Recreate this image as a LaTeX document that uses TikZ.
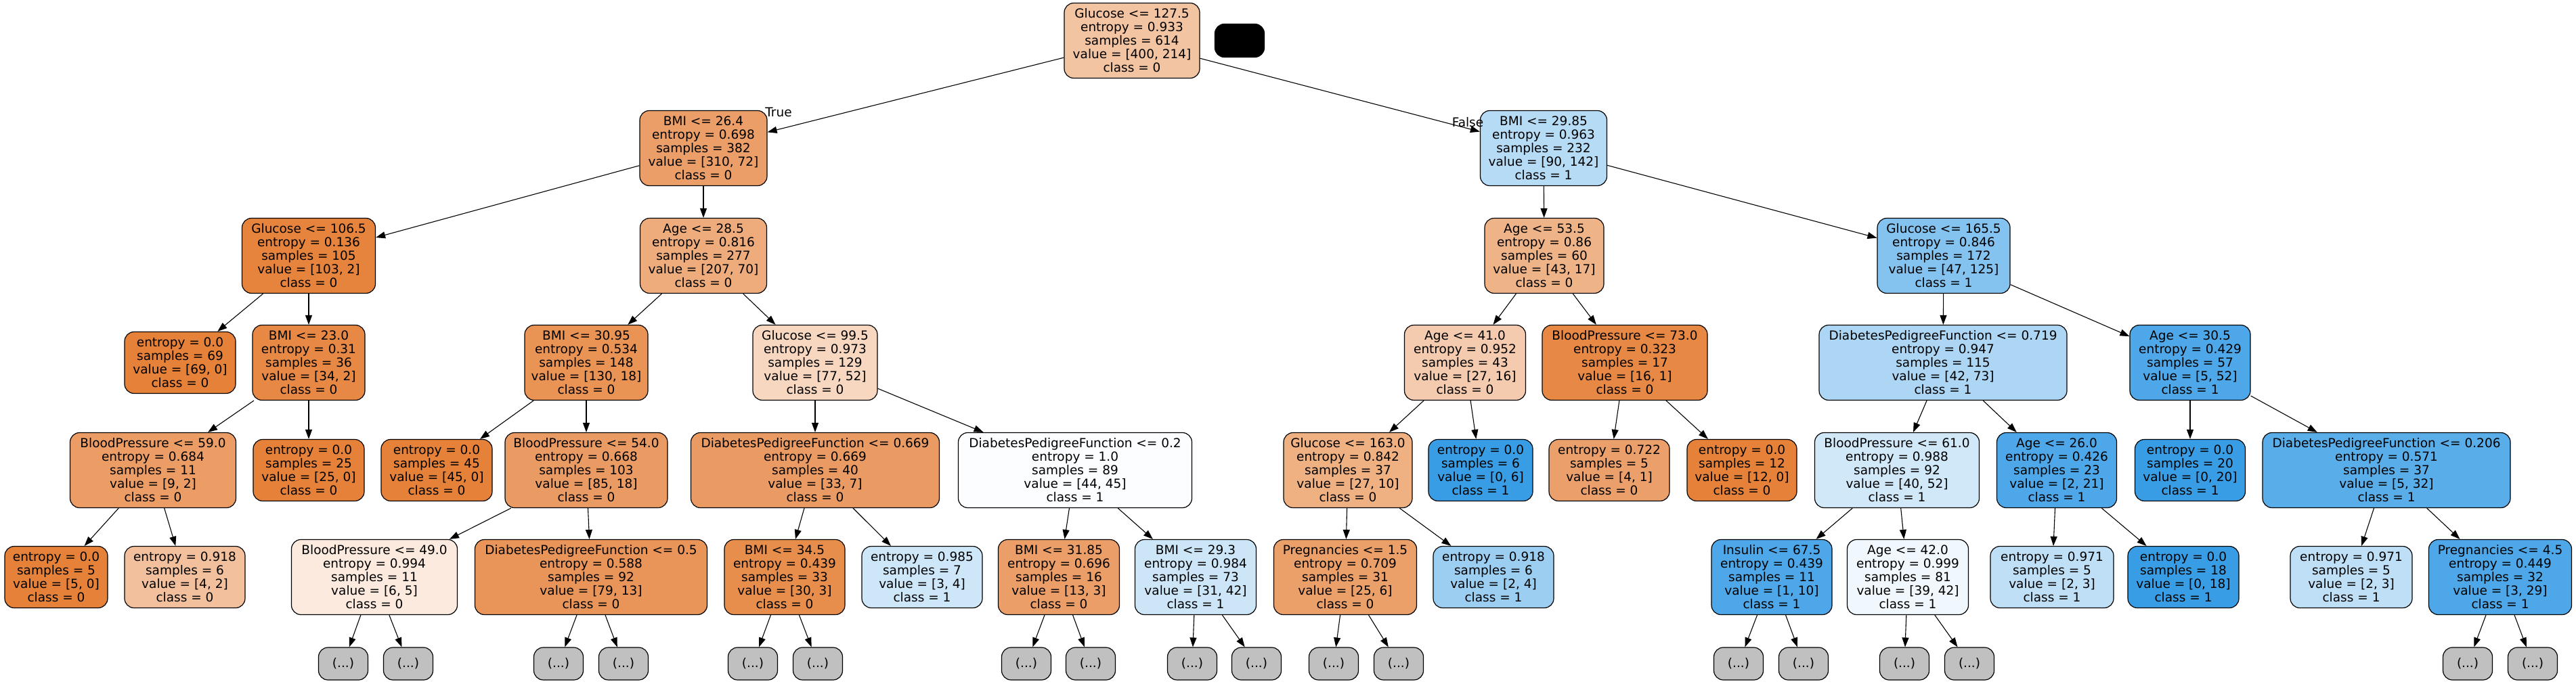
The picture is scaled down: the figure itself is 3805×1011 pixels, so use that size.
\documentclass[tikz,border=0pt]{standalone}
\usepackage{fontspec}
\setmainfont{DejaVu Sans}
\usetikzlibrary{arrows.meta}
\definecolor{co}{RGB}{229,129,57}
\definecolor{cb}{RGB}{57,157,229}
\definecolor{gry}{RGB}{192,192,192}
\newcommand\fs{\fontsize{18.5}{20}\selectfont}
\tikzset{
  box/.style={draw=black, line width=1.2pt, rounded corners=14pt, align=center, inner sep=0pt, font=\fs, minimum height=111pt},
  lf/.style={box, minimum height=91pt},
  gr/.style={box, fill=gry, minimum width=73pt, minimum height=48pt},
  edge/.style={-{Triangle[length=14pt,width=10pt]}, line width=1.1pt},
  elab/.style={font=\fs, inner sep=0pt}
}
\begin{document}
\begin{tikzpicture}[x=1pt,y=-1pt]
\useasboundingbox (0,0) rectangle (3805,1011);
% level 0
\node[box, fill=co!47!white, minimum width=200pt] (n0) at (1672,60) {Glucose <= 127.5\\entropy = 0.933\\samples = 614\\value = [400, 214]\\class = 0};
\node[box, fill=black, minimum width=73pt, minimum height=49pt] (blk) at (1831,60) {};
% level 1
\node[box, fill=co!77!white, minimum width=188pt] (a) at (1039,219) {BMI <= 26.4\\entropy = 0.698\\samples = 382\\value = [310, 72]\\class = 0};
\node[box, fill=cb!37!white, minimum width=187pt] (b) at (2280,219) {BMI <= 29.85\\entropy = 0.963\\samples = 232\\value = [90, 142]\\class = 1};
% level 2
\node[box, fill=co!98!white, minimum width=197pt] (a1) at (456,378) {Glucose <= 106.5\\entropy = 0.136\\samples = 105\\value = [103, 2]\\class = 0};
\node[box, fill=co!66!white, minimum width=187pt] (a2) at (1039,378) {Age <= 28.5\\entropy = 0.816\\samples = 277\\value = [207, 70]\\class = 0};
\node[box, fill=co!60!white, minimum width=176pt] (b1) at (2281,378) {Age <= 53.5\\entropy = 0.86\\samples = 60\\value = [43, 17]\\class = 0};
\node[box, fill=cb!62!white, minimum width=196pt] (b2) at (2871,378) {Glucose <= 165.5\\entropy = 0.846\\samples = 172\\value = [47, 125]\\class = 1};
% level 3
\node[lf, fill=co, minimum width=164pt] (a11) at (266,536) {entropy = 0.0\\samples = 69\\value = [69, 0]\\class = 0};
\node[box, fill=co!94!white, minimum width=166pt] (a12) at (456,536) {BMI <= 23.0\\entropy = 0.31\\samples = 36\\value = [34, 2]\\class = 0};
\node[box, fill=co!86!white, minimum width=182pt] (a21) at (866,536) {BMI <= 30.95\\entropy = 0.534\\samples = 148\\value = [130, 18]\\class = 0};
\node[box, fill=co!32!white, minimum width=184pt] (a22) at (1204,536) {Glucose <= 99.5\\entropy = 0.973\\samples = 129\\value = [77, 52]\\class = 0};
\node[box, fill=co!41!white, minimum width=179pt] (b11) at (2164,536) {Age <= 41.0\\entropy = 0.952\\samples = 43\\value = [27, 16]\\class = 0};
\node[box, fill=co!94!white, minimum width=244pt] (b12) at (2400,536) {BloodPressure <= 73.0\\entropy = 0.323\\samples = 17\\value = [16, 1]\\class = 0};
\node[box, fill=cb!42!white, minimum width=366pt] (b21) at (2870,536) {DiabetesPedigreeFunction <= 0.719\\entropy = 0.947\\samples = 115\\value = [42, 73]\\class = 1};
\node[box, fill=cb!90!white, minimum width=178pt] (b22) at (3235,536) {Age <= 30.5\\entropy = 0.429\\samples = 57\\value = [5, 52]\\class = 1};
% level 4
\node[box, fill=co!78!white, minimum width=245pt] (a121) at (226,695) {BloodPressure <= 59.0\\entropy = 0.684\\samples = 11\\value = [9, 2]\\class = 0};
\node[lf, fill=co, minimum width=164pt] (a122) at (456,695) {entropy = 0.0\\samples = 25\\value = [25, 0]\\class = 0};
\node[lf, fill=co, minimum width=164pt] (a211) at (645,695) {entropy = 0.0\\samples = 45\\value = [45, 0]\\class = 0};
\node[box, fill=co!79!white, minimum width=240pt] (a212) at (866,695) {BloodPressure <= 54.0\\entropy = 0.668\\samples = 103\\value = [85, 18]\\class = 0};
\node[box, fill=co!79!white, minimum width=367pt] (a221) at (1204,695) {DiabetesPedigreeFunction <= 0.669\\entropy = 0.669\\samples = 40\\value = [33, 7]\\class = 0};
\node[box, fill=cb!2!white, minimum width=345pt] (a222) at (1588,695) {DiabetesPedigreeFunction <= 0.2\\entropy = 1.0\\samples = 89\\value = [44, 45]\\class = 1};
\node[box, fill=co!63!white, minimum width=190pt] (b111) at (1991,695) {Glucose <= 163.0\\entropy = 0.842\\samples = 37\\value = [27, 10]\\class = 0};
\node[lf, fill=cb, minimum width=154pt] (b112) at (2187,695) {entropy = 0.0\\samples = 6\\value = [0, 6]\\class = 1};
\node[lf, fill=co!75!white, minimum width=178pt] (b121) at (2377,695) {entropy = 0.722\\samples = 5\\value = [4, 1]\\class = 0};
\node[lf, fill=co, minimum width=162pt] (b122) at (2573,695) {entropy = 0.0\\samples = 12\\value = [12, 0]\\class = 0};
\node[box, fill=cb!23!white, minimum width=243pt] (b211) at (2802,695) {BloodPressure <= 61.0\\entropy = 0.988\\samples = 92\\value = [40, 52]\\class = 1};
\node[box, fill=cb!90!white, minimum width=177pt] (b212) at (3038,695) {Age <= 26.0\\entropy = 0.426\\samples = 23\\value = [2, 21]\\class = 1};
\node[lf, fill=cb, minimum width=163pt] (b221) at (3235,695) {entropy = 0.0\\samples = 20\\value = [0, 20]\\class = 1};
\node[box, fill=cb!84!white, minimum width=366pt] (b222) at (3525,695) {DiabetesPedigreeFunction <= 0.206\\entropy = 0.571\\samples = 37\\value = [5, 32]\\class = 1};
% level 5
\node[lf, fill=co, minimum width=152pt] (a1211) at (83,853) {entropy = 0.0\\samples = 5\\value = [5, 0]\\class = 0};
\node[lf, fill=co!50!white, minimum width=178pt] (a1212) at (273,853) {entropy = 0.918\\samples = 6\\value = [4, 2]\\class = 0};
\node[box, fill=co!17!white, minimum width=245pt] (a2121) at (553,853) {BloodPressure <= 49.0\\entropy = 0.994\\samples = 11\\value = [6, 5]\\class = 0};
\node[box, fill=co!84!white, minimum width=343pt] (a2122) at (873,853) {DiabetesPedigreeFunction <= 0.5\\entropy = 0.588\\samples = 92\\value = [79, 13]\\class = 0};
\node[box, fill=co!90!white, minimum width=178pt] (a2211) at (1159,853) {BMI <= 34.5\\entropy = 0.439\\samples = 33\\value = [30, 3]\\class = 0};
\node[lf, fill=cb!25!white, minimum width=178pt] (a2212) at (1362,853) {entropy = 0.985\\samples = 7\\value = [3, 4]\\class = 1};
\node[box, fill=co!77!white, minimum width=179pt] (a2221) at (1564,853) {BMI <= 31.85\\entropy = 0.696\\samples = 16\\value = [13, 3]\\class = 0};
\node[box, fill=cb!26!white, minimum width=179pt] (a2222) at (1766,853) {BMI <= 29.3\\entropy = 0.984\\samples = 73\\value = [31, 42]\\class = 1};
\node[box, fill=co!76!white, minimum width=211pt] (b1111) at (1987,853) {Pregnancies <= 1.5\\entropy = 0.709\\samples = 31\\value = [25, 6]\\class = 0};
\node[lf, fill=cb!50!white, minimum width=178pt] (b1112) at (2206,853) {entropy = 0.918\\samples = 6\\value = [2, 4]\\class = 1};
\node[box, fill=cb!90!white, minimum width=178pt] (b2111) at (2617,853) {Insulin <= 67.5\\entropy = 0.439\\samples = 11\\value = [1, 10]\\class = 1};
\node[box, fill=cb!7!white, minimum width=179pt] (b2112) at (2818,853) {Age <= 42.0\\entropy = 0.999\\samples = 81\\value = [39, 42]\\class = 1};
\node[lf, fill=cb!33!white, minimum width=182pt] (b2121) at (3031,853) {entropy = 0.971\\samples = 5\\value = [2, 3]\\class = 1};
\node[lf, fill=cb, minimum width=164pt] (b2122) at (3225,853) {entropy = 0.0\\samples = 18\\value = [0, 18]\\class = 1};
\node[lf, fill=cb!33!white, minimum width=180pt] (b2221) at (3473,853) {entropy = 0.971\\samples = 5\\value = [2, 3]\\class = 1};
\node[box, fill=cb!90!white, minimum width=211pt] (b2222) at (3693,853) {Pregnancies <= 4.5\\entropy = 0.449\\samples = 32\\value = [3, 29]\\class = 1};
% level 6
\foreach \n/\x in {g1/507,g2/603,g3/825,g4/921,g5/1112,g6/1208,g7/1516,g8/1611,g9/1761,g10/1856,g11/1970,g12/2066,g13/2568,g14/2664,g15/2813,g16/2909,g17/3645,g18/3741}
  \node[gr] (\n) at (\x,981) {(...)};
% edges
\draw[edge] (n0) -- (a);
\draw[edge] (n0) -- (b);
\foreach \p/\c in {a/a1,a/a2,b/b1,b/b2,
  a1/a11,a1/a12,a2/a21,a2/a22,b1/b11,b1/b12,b2/b21,b2/b22,
  a12/a121,a12/a122,a21/a211,a21/a212,a22/a221,a22/a222,b11/b111,b11/b112,b12/b121,b12/b122,b21/b211,b21/b212,b22/b221,b22/b222,
  a121/a1211,a121/a1212,a212/a2121,a212/a2122,a221/a2211,a221/a2212,a222/a2221,a222/a2222,b111/b1111,b111/b1112,b211/b2111,b211/b2112,b212/b2121,b212/b2122,b222/b2221,b222/b2222,
  a2121/g1,a2121/g2,a2122/g3,a2122/g4,a2211/g5,a2211/g6,a2221/g7,a2221/g8,a2222/g9,a2222/g10,b1111/g11,b1111/g12,b2111/g13,b2111/g14,b2112/g15,b2112/g16,b2222/g17,b2222/g18}
  \draw[edge] (\p) -- (\c);
\node[elab] (tlab) at (1150,166) {True};
\node[elab] (flab) at (2168,181) {False};
\end{tikzpicture}
\end{document}
